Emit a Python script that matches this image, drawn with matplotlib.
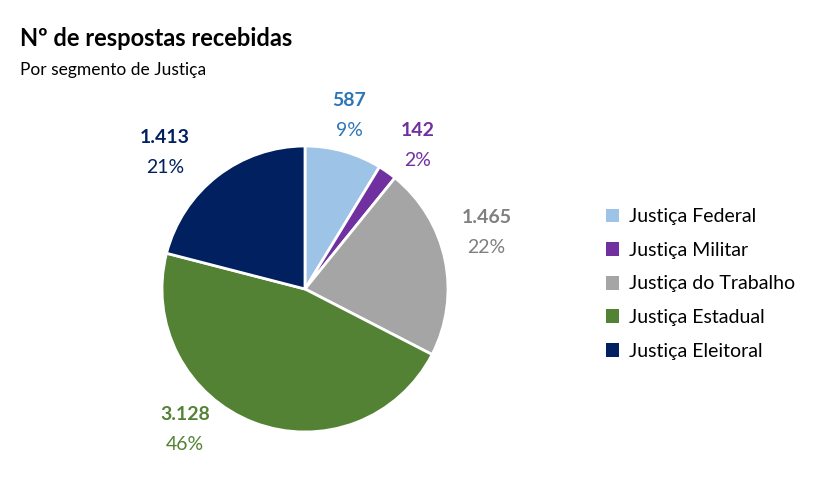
import matplotlib
matplotlib.use("Agg")
import matplotlib.pyplot as plt
from matplotlib.patches import Patch

categories = ["Justiça Federal", "Justiça Militar", "Justiça do Trabalho", "Justiça Estadual", "Justiça Eleitoral"]
values = [587, 142, 1465, 3128, 1413]
percents = ["9%", "2%", "22%", "46%", "21%"]
colors = ["#9DC3E6", "#7030A0", "#A5A5A5", "#548235", "#002060"]
label_colors = ["#2E75B6", "#7030A0", "#7F7F7F", "#548235", "#002060"]
label_pos = [(0.31, 1.32), (0.79, 1.11), (1.27, 0.50), (-0.84, -0.88), (-0.98, 1.06)]

plt.rcParams["font.family"] = "Lato"
fig = plt.figure(figsize=(8.31, 4.87), dpi=100)
W, H = 831, 487
cx, cy, r = 305, 289, 143
ax = fig.add_axes([(cx - r) / W, (H - cy - r) / H, 2 * r / W, 2 * r / H])
ax.pie(values, colors=colors, startangle=90, counterclock=False,
       wedgeprops=dict(edgecolor="white", linewidth=2))
ax.set_xlim(-1, 1); ax.set_ylim(-1, 1)
ax.set_aspect("equal")

def fmt(v):
    return f"{v:,}".replace(",", ".")

for v, p, c, (x, y) in zip(values, percents, label_colors, label_pos):
    ax.text(x, y, fmt(v), color=c, fontsize=14, fontweight="bold", ha="center", va="center", clip_on=False)
    ax.text(x, y - 0.21, p, color=c, fontsize=14, ha="center", va="center", clip_on=False)

handles = [Patch(facecolor=c, edgecolor="none") for c in colors]
fig.legend(handles, categories, loc="center left", bbox_to_anchor=(588 / W, 1 - 284 / H),
           frameon=False, fontsize=14, handlelength=0.7, handleheight=0.7,
           labelspacing=0.85, handletextpad=0.5)

fig.text(20 / W, 1 - 38 / H, "Nº de respostas recebidas", fontsize=17, fontweight="bold", va="center")
fig.text(20 / W, 1 - 70 / H, "Por segmento de Justiça", fontsize=12.5, va="center")

fig.savefig("out.png", dpi=100)
